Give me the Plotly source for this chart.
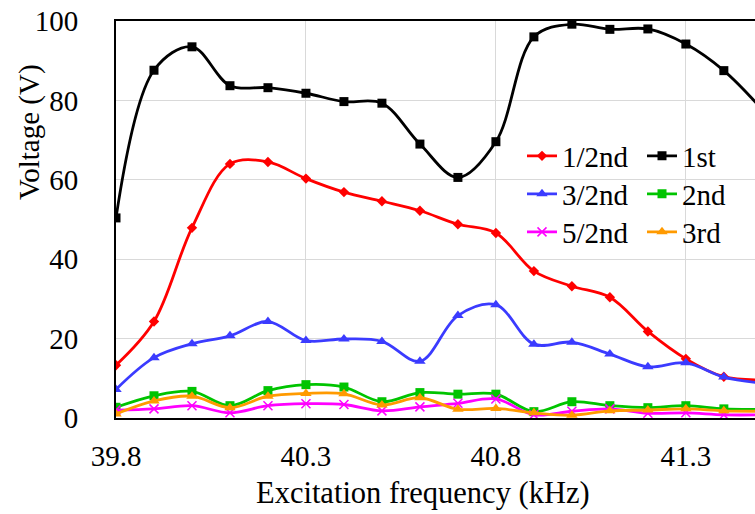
import plotly.graph_objects as go

freq = [39.8, 39.9, 40.0, 40.1, 40.2, 40.3, 40.4, 40.5, 40.6, 40.7, 40.8, 40.9,
        41.0, 41.1, 41.2, 41.3, 41.4, 41.5]

half = [13.3, 24.3, 47.9, 64.0, 64.5, 60.3, 56.9, 54.6, 52.2, 48.8, 46.6, 37.0,
        33.2, 30.4, 21.8, 14.9, 10.4, 9.6]
first = [50.4, 87.6, 93.5, 83.7, 83.2, 81.8, 79.7, 79.3, 69.0, 60.6, 69.6, 96.0,
         99.2, 97.9, 98.0, 94.2, 87.5, 77.8]
three_half = [7.2, 15.2, 18.7, 20.7, 24.3, 19.5, 19.9, 19.3, 14.3, 25.8, 28.5, 18.6,
              19.1, 16.1, 12.9, 13.9, 10.3, 8.8]
second = [2.7, 5.6, 6.7, 3.1, 6.9, 8.4, 7.8, 4.1, 6.4, 6.0, 6.0, 1.6,
          4.1, 3.1, 2.6, 3.1, 2.3, 2.2]
five_half = [2.0, 2.3, 3.1, 1.3, 3.1, 3.6, 3.4, 1.8, 2.8, 3.7, 4.8, 0.8,
             1.7, 2.3, 1.2, 1.3, 0.8, 0.8]
third = [1.0, 4.3, 5.5, 2.6, 5.5, 6.2, 6.1, 3.3, 5.1, 2.2, 2.4, 1.3,
         0.7, 1.8, 2.0, 2.3, 1.8, 1.7]

x_ticks = [39.8, 40.3, 40.8, 41.3]
y_ticks = [0, 20, 40, 60, 80, 100]

FONT = "Liberation Serif"
FS = 29

# plot area in pixels: x 116..755, y 21..418
PL, PR, PT, PB = 116, 755, 21, 418
def px_x(p):
    return (p - PL) / (PR - PL)
def px_y(p):
    return (PB - p) / (PB - PT)

series = [
    ("1/2nd", half, "#ff0000", "diamond", 8),
    ("1st", first, "#000000", "square", 9),
    ("3/2nd", three_half, "#3b3bff", "triangle-up", 10),
    ("2nd", second, "#00c400", "square", 9),
    ("5/2nd", five_half, "#ff00ff", "x-thin", 9),
    ("3rd", third, "#ff9a00", "triangle-up", 10),
]
# legend slot (text-left x, row centre y) in pixels
col_x = [522, 642]
row_y = [156, 194, 232]

fig = go.Figure()
legends = {}
for i, (name, vals, color, sym, size) in enumerate(series):
    marker = dict(symbol=sym, size=size, color=color)
    if sym == "x-thin":
        marker["line"] = dict(color=color, width=1.5)
    key = "legend" if i == 0 else f"legend{i + 1}"
    fig.add_trace(go.Scatter(
        x=freq, y=vals, name=name, mode="lines+markers",
        line=dict(color=color, width=2.8, shape="spline", smoothing=1.0),
        marker=marker, legend=key, cliponaxis=True,
    ))
    legends[key] = dict(
        x=px_x(col_x[i % 2]), y=px_y(row_y[i // 2]),
        xanchor="left", yanchor="middle",
        bgcolor="rgba(0,0,0,0)", borderwidth=0,
        font=dict(size=FS, family=FONT, color="black"), itemwidth=30,
    )

fig.update_layout(
    width=755, height=514,
    margin=dict(l=PL, r=755 - PR, t=PT, b=514 - PB),
    paper_bgcolor="white", plot_bgcolor="white",
    font=dict(family=FONT, size=FS, color="black"),
    showlegend=True,
    **legends,
)

fig.update_xaxes(
    range=[39.8, 41.482], tickmode="array", tickvals=x_ticks,
    ticktext=[f"{v:.1f}" for v in x_ticks],
    showgrid=True, gridcolor="#d9d9d9", gridwidth=1,
    showline=True, linecolor="black", linewidth=2, mirror=True,
    ticks="", ticklabelstandoff=11, zeroline=False,
    tickfont=dict(family=FONT, size=FS, color="black"),
)
fig.update_yaxes(
    range=[0, 100], tickmode="array", tickvals=y_ticks,
    showgrid=True, gridcolor="#d9d9d9", gridwidth=1,
    showline=True, linecolor="black", linewidth=2, mirror=False,
    ticks="", ticklabelstandoff=30, zeroline=False,
    tickfont=dict(family=FONT, size=FS, color="black"),
)

fig.add_annotation(text="Excitation frequency (kHz)", xref="paper", yref="paper",
                   x=px_x(423), y=px_y(493), showarrow=False,
                   xanchor="center", yanchor="middle",
                   font=dict(family=FONT, size=30.5, color="black"))
fig.add_annotation(text="Voltage (V)", xref="paper", yref="paper",
                   x=px_x(29), y=px_y(132), showarrow=False,
                   textangle=-90, xanchor="center", yanchor="middle",
                   font=dict(family=FONT, size=FS, color="black"))

fig.write_html("out.html", config={"displayModeBar": False},
               post_script="document.body.style.margin='0';document.body.style.overflow='hidden';")
